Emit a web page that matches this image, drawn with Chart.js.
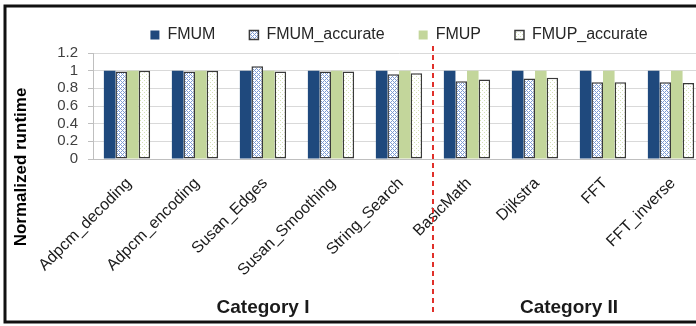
<!DOCTYPE html>
<html><head><meta charset="utf-8">
<script src="https://cdn.jsdelivr.net/npm/chart.js@4.4.1/dist/chart.umd.min.js"></script>
<style>
html,body{margin:0;padding:0;overflow:hidden;background:#fff;width:696px;height:326px}
#wrap{position:absolute;left:0;top:0;width:705px;height:326px}
</style>
</head><body><div id="wrap"><canvas id="c" width="705" height="326"></canvas></div>
<script>
const categories = ['Adpcm_decoding','Adpcm_encoding','Susan_Edges','Susan_Smoothing','String_Search','BasicMath','Dijkstra','FFT','FFT_inverse'];
const seriesNames = ['FMUM','FMUM_accurate','FMUP','FMUP_accurate'];
const fmum         = [1.00,1.00,1.00,1.00,1.00,1.00,1.00,1.00,1.00];
const fmumAccurate = [0.99,0.99,1.05,0.99,0.96,0.88,0.91,0.87,0.87];
const fmup         = [1.00,1.00,1.00,1.00,1.00,1.00,1.00,1.00,1.00];
const fmupAccurate = [1.00,1.00,0.99,0.99,0.97,0.90,0.92,0.87,0.86];
const yTickLabels = ['0','0.2','0.4','0.6','0.8','1','1.2'];
const groupNames = ['Category I','Category II'];
const groupFirst = [0,5];
const groupLast  = [4,8];

function makePattern(size, bg, fg, cells){
  const c = document.createElement('canvas'); c.width = size; c.height = size;
  const g = c.getContext('2d');
  g.fillStyle = bg; g.fillRect(0,0,size,size);
  g.fillStyle = fg;
  cells.forEach(p => g.fillRect(p[0],p[1],1,1));
  return document.getElementById('c').getContext('2d').createPattern(c,'repeat');
}
const crossCells = [];
for (let x=0;x<4;x++) for (let y=0;y<4;y++) if ((x+y)%4===0 || ((x-y+4)%4)===0) crossCells.push([x,y]);
const blueHatch = makePattern(4,'#ffffff','#7d9bd3',crossCells);
const greenDots = makePattern(4,'#ffffff','#d3e2b6',[[0,0],[2,2]]);

const FONT = '"Liberation Sans", Arial, sans-serif';

const framePlugin = {
  id:'frame',
  afterDraw(chart){
    const ctx = chart.ctx, x = chart.scales.x;
    ctx.save();
    ctx.fillStyle = '#000';
    ctx.font = 'bold 17px ' + FONT;
    ctx.textAlign = 'center'; ctx.textBaseline = 'middle';
    ctx.translate(21,167); ctx.rotate(-Math.PI/2);
    ctx.fillText('Normalized runtime',0,0);
    ctx.restore();
    ctx.save();
    ctx.fillStyle = '#1a1a1a';
    ctx.font = 'bold 19px ' + FONT;
    ctx.textAlign = 'center'; ctx.textBaseline = 'middle';
    groupNames.forEach((n,i)=>{
      const cx = (x.getPixelForValue(groupFirst[i]) + x.getPixelForValue(groupLast[i]))/2;
      ctx.fillText(n, cx, 308);
    });
    const sx = Math.round((x.getPixelForValue(groupLast[0]) + x.getPixelForValue(groupFirst[1]))/2);
    ctx.strokeStyle = '#e0302a'; ctx.lineWidth = 2; ctx.setLineDash([5,4]);
    ctx.beginPath(); ctx.moveTo(sx,46); ctx.lineTo(sx,316); ctx.stroke();
    ctx.setLineDash([]);
    ctx.strokeStyle = '#111'; ctx.lineWidth = 3;
    ctx.strokeRect(5,6,760,316);
    ctx.restore();
  }
};

new Chart(document.getElementById('c'), {
  type:'bar',
  data:{
    labels: categories,
    datasets:[
      {label:seriesNames[0], data:fmum, backgroundColor:'#1f497d', borderWidth:0},
      {label:seriesNames[1], data:fmumAccurate, backgroundColor:blueHatch, borderColor:'#3a3a3a', borderWidth:1.5, borderSkipped:false},
      {label:seriesNames[2], data:fmup, backgroundColor:'#c3d69b', borderWidth:0},
      {label:seriesNames[3], data:fmupAccurate, backgroundColor:greenDots, borderColor:'#3a3a3a', borderWidth:1.5, borderSkipped:false}
    ]
  },
  options:{
    responsive:false, animation:false, devicePixelRatio:1,
    datasets:{bar:{categoryPercentage:0.68, barPercentage:1}},
    layout:{padding:{left:40,right:0,top:-7,bottom:0}},
    plugins:{
      legend:{position:'top', fullSize:false, labels:{boxWidth:9, boxHeight:9, padding:34, color:'#262626', font:{family:FONT, size:16}}},
      tooltip:{enabled:false}
    },
    scales:{
      x:{
        grid:{display:false},
        border:{display:true, color:'#bfbfbf'},
        ticks:{autoSkip:false, minRotation:45, maxRotation:45, padding:7, labelOffset:2, color:'#1a1a1a', font:{family:FONT, size:16}},
        afterFit(s){ s.height = 167; }
      },
      y:{
        min:0, max:1.2,
        ticks:{stepSize:0.2, autoSkip:false, padding:10, color:'#404040', font:{family:FONT, size:15},
          callback:(v,i)=>yTickLabels[i]},
        grid:{color:'#d9d9d9', tickLength:5, tickColor:'#bfbfbf'},
        border:{color:'#bfbfbf'},
        afterFit(s){ s.width = 53; }
      }
    }
  },
  plugins:[framePlugin]
});
</script>
</body></html>
